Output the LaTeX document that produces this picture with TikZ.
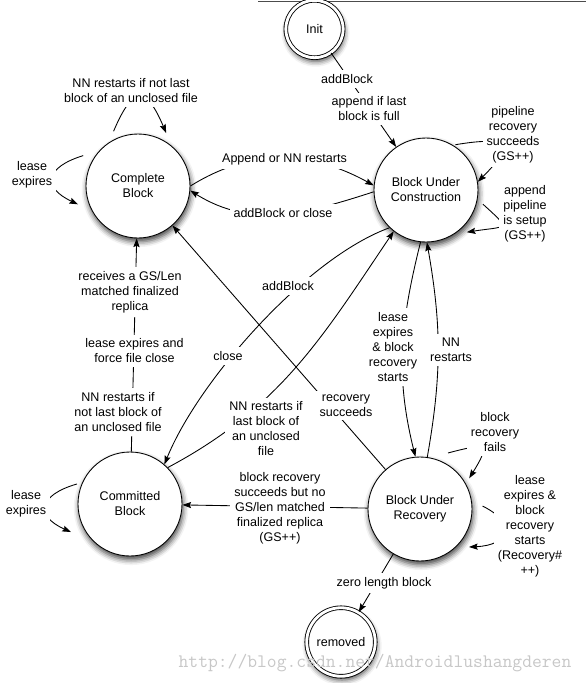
\documentclass[tikz,border=0pt]{standalone}
\usepackage{fontspec}
\setmainfont{Liberation Sans}
\usetikzlibrary{arrows.meta,calc,shadows.blur}
\newcommand\lblfont{\fontsize{9.4}{11.25}\selectfont}
\tikzset{
  lw/.style={line width=0.65pt},
  state/.style={circle, draw, lw, fill=white, minimum size=78pt, inner sep=0pt,
    align=center, font=\lblfont,
    blur shadow={shadow xshift=0.8pt, shadow yshift=-2.8pt, shadow blur radius=4pt, shadow opacity=75}},
  initstate/.style={state, double, double distance=2.1pt, minimum size=43pt},
  endstate/.style={state, double, double distance=2.1pt, minimum size=51.4pt},
  lbl/.style={fill=white, inner sep=3pt, align=center, font=\lblfont},
  edge/.style={lw, -{Stealth[length=6.5pt,width=4.6pt,inset=1pt]}},
}
\begin{document}
\begin{tikzpicture}[x=0.75pt,y=-0.75pt]
\useasboundingbox (0,0) rectangle (586,683);
\draw[black!70, line width=0.75pt] (258,1.5) -- (586,1.5);

% states
\node[initstate] (init) at (314.5,29) {Init};
\node[state] (cb) at (138,186) {Complete\\Block};
\node[state] (buc) at (426,190) {Block Under\\Construction};
\node[state] (cm) at (130,504) {Committed\\Block};
\node[state] (bur) at (420,509) {Block Under\\Recovery};
\node[endstate] (rem) at (341,642) {removed};

% transitions
\draw[edge] (init) -- (buc);
\draw[edge] (cb.0) to[out=32,in=151] (buc.175);
\draw[edge] (buc.182) to[out=198,in=-32] (cb.355);
\draw[edge] ($(cb)+(114:45pt)$) .. controls +(67:38pt) and +(113:38pt) .. ($(cb)+(62:45pt)$);
\draw[edge] ($(cb)+(151:47pt)$) .. controls +(197:30pt) and +(155:30pt) .. ($(cb)+(197:47pt)$);
\draw[edge] ($(buc)+(57:40.5pt)$) .. controls +(9.5:40pt) and +(45:40pt) .. (buc.9);
\draw[edge] ($(buc)+(-14:44pt)$) .. controls +(-42:30pt) and +(9:30pt) .. ($(buc)+(-46:44pt)$);
\draw[edge] ($(bur)+(63.4:47pt)$) .. controls +(15:30pt) and +(58:30pt) .. ($(bur)+(32:43.5pt)$);
\draw[edge] ($(bur)+(2.7:47pt)$) .. controls +(-26.6:30pt) and +(2.5:30pt) .. ($(bur)+(-37.8:46.5pt)$);
\draw[edge] ($(cm)+(159.3:42.5pt)$) .. controls +(196:30pt) and +(156:30pt) .. ($(cm)+(205.4:49pt)$);
\draw[edge] (cm) -- (cb);
\draw[edge] (buc.226) to[out=200,in=68,looseness=0.7] (cm.49);
\draw[edge] (cm.44) to[out=28,in=236] (buc.232);
\draw[edge] (bur) -- (cb);
\draw[edge] (bur.82) to[out=80,in=-80] (buc.271);
\draw[edge] (buc.264) to[out=-104,in=104] (bur.95);
\draw[edge] (bur) -- (cm);
\draw[edge] (bur) -- (rem);

% labels
\node[lbl] (l1) at (347,79) {addBlock};
\node[lbl] (l2) at (369,109) {append if last\\block is full};
\node[lbl] (l3) at (513,134.5) {pipeline\\recovery\\succeeds\\(GS++)};
\node[lbl] (l4) at (525,214) {append\\pipeline\\is setup\\(GS++)};
\node[lbl] (l5) at (284.5,159) {Append or NN restarts};
\node[lbl] (l6) at (283,213) {addBlock or close};
\node[lbl] (l7) at (32,175) {lease\\expires};
\node[lbl] (l8) at (131,91) {NN restarts if not last\\block of an unclosed file};
\node[lbl] (l9) at (130,292) {receives a GS/Len\\matched finalized\\replica};
\node[lbl] (l10) at (134.5,351) {lease expires and\\force file close};
\node[lbl] (l11) at (118,412) {NN restarts if\\not last block of\\an unclosed file};
\node[lbl] (l12) at (228,356) {close};
\node[lbl] (l13) at (288,286) {addBlock};
\node[lbl] (l14) at (266,429) {NN restarts if\\last block of\\an unclosed\\file};
\node[lbl] (l15) at (393,347) {lease\\expires\\\& block\\recovery\\starts};
\node[lbl] (l16) at (451,350) {NN\\restarts};
\node[lbl] (l17) at (346,405.5) {recovery\\succeeds};
\node[lbl] (l18) at (495,432) {block\\recovery\\fails};
\node[lbl] (l19) at (530,526) {lease\\expires \&\\block\\recovery\\starts\\(Recovery\#\\++)};
\node[lbl] (l20) at (384,583) {zero length block};
\node[lbl] (l21) at (280,508) {block recovery\\succeeds but no\\GS/len matched\\finalized replica\\(GS++)};
\node[lbl] (l22) at (26,503.5) {lease\\expires};

% watermark
\node[text=black!22, font=\ttfamily\fontsize{14.3}{16}\selectfont, inner sep=0pt] (wm) at (375,663) {http://blog.csdn.net/Androidlushangderen};
\end{tikzpicture}
\end{document}
